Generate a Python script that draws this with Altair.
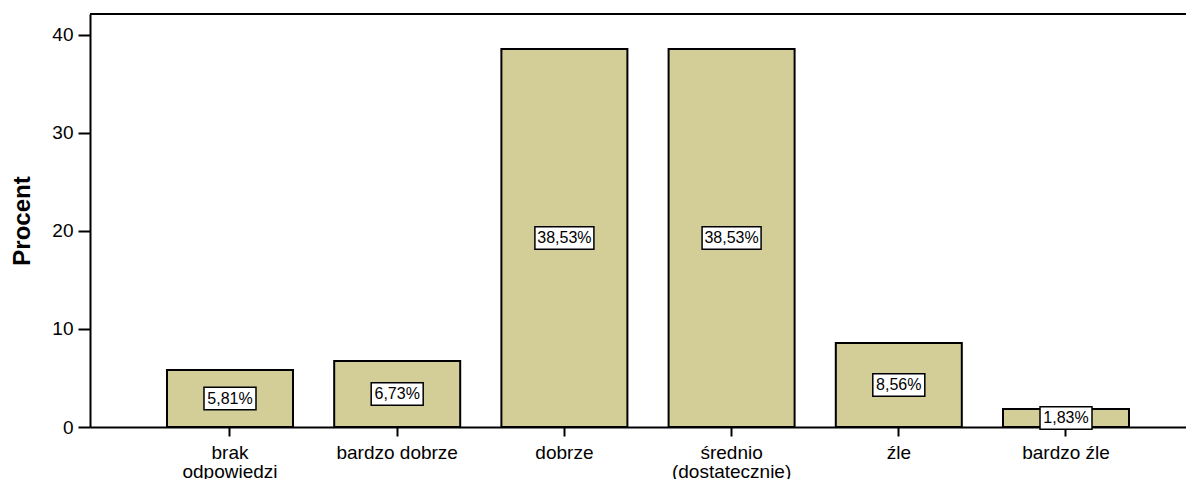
import altair as alt
import pandas as pd

categories = ["brak\nodpowiedzi", "bardzo dobrze", "dobrze", "średnio\n(dostatecznie)", "źle", "bardzo źle"]
percent = [5.81, 6.73, 38.53, 38.53, 8.56, 1.83]
labels = ["5,81%", "6,73%", "38,53%", "38,53%", "8,56%", "1,83%"]
y_ticks = [0, 10, 20, 30, 40]

df = pd.DataFrame({"cat": categories, "pct": percent, "label": labels})

W, H = 1096, 413
YMAX = 42.1
BOX_HALF = 11.2 * YMAX / H  # half box height in data units

FONT = "Liberation Sans"

xscale = alt.Scale(domain=categories, paddingInner=0.2464, paddingOuter=0.4007, align=0.5746)
yscale = alt.Scale(domain=[0, YMAX], nice=False, zero=True)

x_axis = alt.Axis(
    title=None, labelAngle=0, labelExpr="split(datum.label, '\\n')",
    labelFont=FONT, labelFontSize=19, labelColor="black", labelPadding=7,
    labelLineHeight=19, tickSize=9, tickWidth=2, tickColor="black",
    domainColor="black", domainWidth=2, grid=False,
)
y_axis = alt.Axis(
    title="Procent", values=y_ticks, labelFont=FONT, labelFontSize=19,
    labelColor="black", labelPadding=5, tickSize=12, tickWidth=2,
    tickColor="black", domainColor="black", domainWidth=2, grid=False,
    titleFont=FONT, titleFontSize=24, titleFontWeight="bold", titleColor="black",
    titleAngle=-90, titleX=-68, titleY=H / 2, titleAlign="center",
    titleBaseline="middle",
)

base = alt.Chart(df)

bars = base.mark_bar(fill="#d3ce97", stroke="black", strokeWidth=2).encode(
    x=alt.X("cat:N", scale=xscale, sort=categories, axis=x_axis),
    y=alt.Y("pct:Q", scale=yscale, axis=y_axis),
)

box_base = base.transform_calculate(
    mid="datum.pct / 2",
    lo=f"datum.pct / 2 - {BOX_HALF}",
    hi=f"datum.pct / 2 + {BOX_HALF}",
    n="length(datum.label)",
)

boxes_short = box_base.transform_filter("datum.n <= 5").mark_bar(
    width=52, fill="white", stroke="black", strokeWidth=1.5
).encode(
    x=alt.X("cat:N", scale=xscale, sort=categories),
    y=alt.Y("lo:Q", scale=yscale),
    y2="hi:Q",
)
boxes_long = box_base.transform_filter("datum.n > 5").mark_bar(
    width=59, fill="white", stroke="black", strokeWidth=1.5
).encode(
    x=alt.X("cat:N", scale=xscale, sort=categories),
    y=alt.Y("lo:Q", scale=yscale),
    y2="hi:Q",
)

texts = box_base.mark_text(font=FONT, fontSize=16, color="black", baseline="middle").encode(
    x=alt.X("cat:N", scale=xscale, sort=categories),
    y=alt.Y("mid:Q", scale=yscale),
    text="label:N",
)

top_rule = alt.Chart(df).mark_rule(color="black", strokeWidth=2).encode(
    x=alt.value(0), x2=alt.value(W), y=alt.value(0)
)

chart = alt.layer(bars, boxes_short, boxes_long, texts, top_rule).properties(
    width=W, height=H,
    autosize=alt.AutoSizeParams(type="none"),
    padding={"left": 82, "top": 6, "right": 0, "bottom": 52},
).configure_view(fill="#f0f0f0", stroke=None).configure(background="white")

chart.save("out.html", embed_options={"renderer": "svg", "actions": False})
